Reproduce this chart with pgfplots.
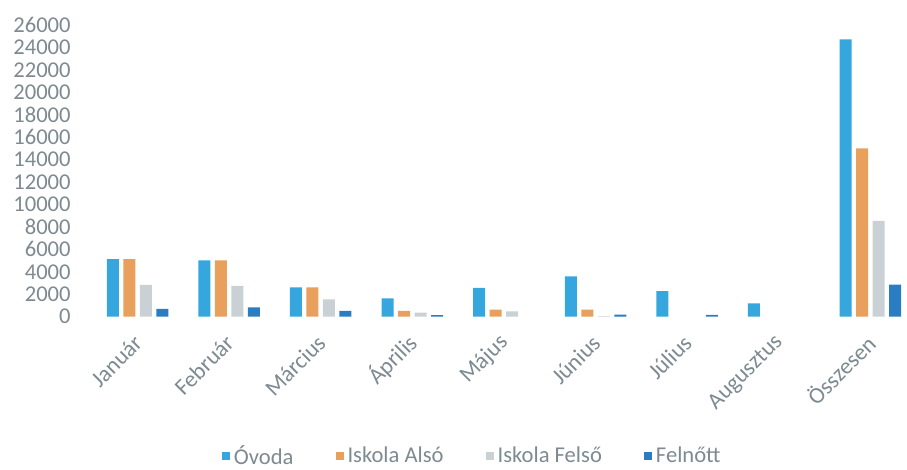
\documentclass[border=0pt]{standalone}
\usepackage{pgfplots}
\pgfplotsset{compat=1.18}
\usepackage{fontspec}
\setmainfont{Carlito}
\definecolor{ovoda}{HTML}{35A6DE}
\definecolor{also}{HTML}{E8A05C}
\definecolor{felso}{HTML}{C9D1D5}
\definecolor{felnott}{HTML}{2A7DC2}
\definecolor{lab}{HTML}{7D8A90}
\begin{document}
\begin{tikzpicture}
\useasboundingbox (-45.85pt,-76.65pt) rectangle (407.65pt,158.35pt);
\begin{axis}[
  at={(0,0)}, anchor=south west,
  scale only axis, width=407.65pt, height=145.85pt,
  ybar=2.25pt, bar width=6pt,
  xmin=-0.5, xmax=8.40, ymin=0, ymax=26000,
  ytick={0,2000,...,26000},
  scaled y ticks=false,
  xtick={0,...,8},
  xticklabels={Január,Február,Március,Április,Május,Június,Július,Augusztus,Összesen},
  axis line style={draw=none},
  tick style={draw=none},
  /pgf/number format/assume math mode=true,
  /pgf/number format/1000 sep={},
  yticklabel style={font=\fontsize{11.3}{13}\selectfont, text=lab, xshift=-7pt},
  xticklabel style={font=\fontsize{11.5}{13}\selectfont, text=lab, rotate=45, anchor=east, yshift=-5.2pt, xshift=-1.2pt},
  legend columns=4,
  legend style={draw=none, fill=none, at={(0.468,-0.478)}, anchor=center,
    font=\fontsize{11.3}{13}\selectfont, text=lab,
    /tikz/every even column/.append style={column sep=19pt}},
  legend image code/.code={\fill[#1] (0pt,-2pt) rectangle (4pt,2pt);},
]
\addplot[draw=none, fill=ovoda] coordinates {(0,5140) (1,5025) (2,2620) (3,1640) (4,2560) (5,3600) (6,2290) (7,1190) (8,24720)};
\addplot[draw=none, fill=also] coordinates {(0,5140) (1,5025) (2,2620) (3,510) (4,620) (5,620) (8,15010)};
\addplot[draw=none, fill=felso] coordinates {(0,2825) (1,2740) (2,1550) (3,360) (4,480) (5,40) (8,8530)};
\addplot[draw=none, fill=felnott] coordinates {(0,690) (1,840) (2,510) (3,150) (5,180) (6,160) (8,2850)};
\legend{Óvoda, Iskola Alsó, Iskola Felső, Felnőtt}
\end{axis}
\end{tikzpicture}
\end{document}
